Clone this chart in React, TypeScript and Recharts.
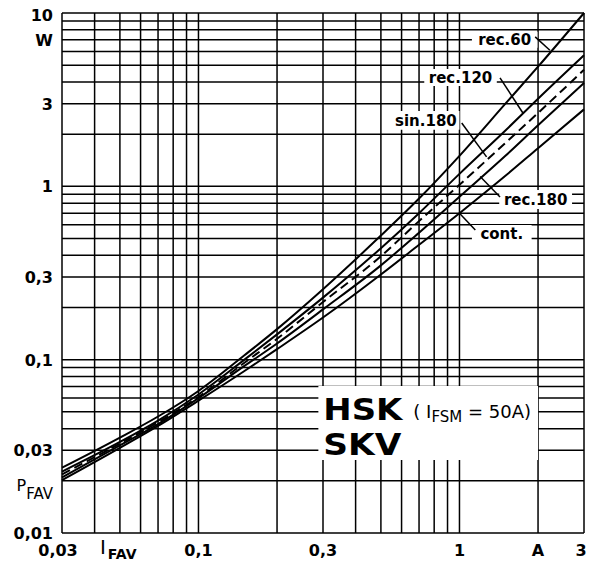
import React from "react";
import {
  CartesianGrid,
  Line,
  LineChart,
  ReferenceArea,
  ReferenceLine,
  XAxis,
  YAxis,
} from "recharts";

// average forward current, A
const currentA = [0.03, 0.05, 0.07, 0.1, 0.15, 0.2, 0.3, 0.5, 0.7, 1, 1.5, 2, 3];

// power loss, W
const powerRec60 = [0.0238, 0.0355, 0.047, 0.066, 0.106, 0.15, 0.255, 0.52, 0.85, 1.5, 3.0, 4.9, 10];
const powerRec120 = [0.0226, 0.0335, 0.0445, 0.063, 0.1, 0.14, 0.228, 0.44, 0.7, 1.18, 2.1, 3.2, 5.7];
const powerSin180 = [0.0218, 0.0328, 0.0435, 0.061, 0.096, 0.132, 0.215, 0.395, 0.63, 1.02, 1.78, 2.65, 4.7];
const powerRec180 = [0.0209, 0.032, 0.0425, 0.06, 0.092, 0.124, 0.195, 0.35, 0.54, 0.87, 1.5, 2.25, 3.95];
const powerCont = [0.0202, 0.031, 0.0415, 0.058, 0.086, 0.115, 0.175, 0.31, 0.46, 0.7, 1.15, 1.66, 2.78];

const gridCurrent = [
  0.03, 0.04, 0.05, 0.06, 0.07, 0.08, 0.09, 0.1, 0.2, 0.3, 0.4, 0.5, 0.6, 0.7,
  0.8, 0.9, 1, 2, 3,
];
const gridPower = [
  0.01, 0.02, 0.03, 0.04, 0.05, 0.06, 0.07, 0.08, 0.09, 0.1, 0.2, 0.3, 0.4,
  0.5, 0.6, 0.7, 0.8, 0.9, 1, 2, 3, 4, 5, 6, 7, 8, 9, 10,
];

const currentLabels: [number, string][] = [
  [0.03, "0,03"],
  [0.05, "I_FAV"],
  [0.1, "0,1"],
  [0.3, "0,3"],
  [1, "1"],
  [2, "A"],
  [3, "3"],
];
const powerLabels: [number, string][] = [
  [10, "10"],
  [7, "W"],
  [3, "3"],
  [1, "1"],
  [0.3, "0,3"],
  [0.1, "0,1"],
  [0.03, "0,03"],
  [0.02, "P_FAV"],
  [0.01, "0,01"],
];

// curve annotations
const noteNames = ["rec.60", "rec.120", "sin.180", "rec.180", "cont."];
const noteCurrent = [[1.116, 1.99], [0.733, 1.39], [0.553, 1.0], [1.42, 2.7], [1.116, 1.89]];
const notePower = [[6.3, 7.8], [3.79, 4.76], [2.12, 2.72], [0.741, 0.953], [0.472, 0.599]];
const leaderFrom = [[1.95, 7.28], [1.43, 4.22], [1.02, 2.32], [1.43, 0.869], [1.15, 0.56]];
const leaderTo = [[2.22, 6.1], [1.75, 2.65], [1.27, 1.48], [1.2, 1.14], [1.0, 0.7]];

const typeBoxCurrent = [0.288, 2.0];
const typeBoxPower = [0.0264, 0.0705];

const rows = currentA.map((x, i) => ({
  x,
  rec60: powerRec60[i],
  rec120: powerRec120[i],
  sin180: powerSin180[i],
  rec180: powerRec180[i],
  cont: powerCont[i],
}));

const FONT = "DejaVu Sans";

const findLabel = (list: [number, string][], v: number) =>
  list.find(([k]) => Math.abs(k - v) < 1e-9)?.[1];

function CurrentTick(props: any) {
  const { x, y, payload } = props;
  const label = findLabel(currentLabels, payload.value);
  if (!label) return null;
  if (label === "I_FAV") {
    return (
      <text x={x - 20} y={y + 21} fontFamily={FONT} fill="#000">
        <tspan fontSize={20}>I</tspan>
        <tspan fontSize={14} fontWeight="bold" dx={2} dy={5}>
          FAV
        </tspan>
      </text>
    );
  }
  const shift = payload.value === 0.03 ? -4 : payload.value === 3 ? -3 : 0;
  return (
    <text
      x={x + shift}
      y={y + 23}
      textAnchor="middle"
      fontFamily={FONT}
      fontWeight="bold"
      fontSize={16}
      fill="#000"
    >
      {label}
    </text>
  );
}

function PowerTick(props: any) {
  const { x, y, payload } = props;
  const label = findLabel(powerLabels, payload.value);
  if (!label) return null;
  if (label === "P_FAV") {
    return (
      <text x={x} y={y + 10} textAnchor="end" fontFamily={FONT} fill="#000">
        <tspan fontSize={16}>P</tspan>
        <tspan fontSize={15} dy={8}>
          FAV
        </tspan>
      </text>
    );
  }
  const shift = payload.value === 10 ? 2 : 0;
  return (
    <text
      x={x}
      y={y + 6 + shift}
      textAnchor="end"
      fontFamily={FONT}
      fontWeight="bold"
      fontSize={16}
      fill="#000"
    >
      {label}
    </text>
  );
}

function TypeLabel(props: any) {
  const vb = props.viewBox;
  if (!vb) return null;
  return (
    <g fill="#000" fontFamily={FONT}>
      <text
        x={vb.x + 5}
        y={vb.y + 34}
        fontSize={30}
        fontWeight="bold"
        textLength={79}
        lengthAdjust="spacingAndGlyphs"
      >
        HSK
      </text>
      <text x={vb.x + 95} y={vb.y + 32} fontSize={18}>
        ( I
        <tspan fontSize={15} dy={4}>
          FSM
        </tspan>
        <tspan dy={-4}> = 50A)</tspan>
      </text>
      <text
        x={vb.x + 5}
        y={vb.y + 69}
        fontSize={30}
        fontWeight="bold"
        textLength={78}
        lengthAdjust="spacingAndGlyphs"
      >
        SKV
      </text>
    </g>
  );
}

export default function App() {
  return (
    <div style={{ position: "absolute", left: 0, top: 0, background: "#fff" }}>
      <LineChart
        width={590}
        height={561}
        data={rows}
        margin={{ top: 13, right: 6, left: 0, bottom: 0 }}
      >
        <CartesianGrid stroke="#000" strokeWidth={1.5} />
        <XAxis
          dataKey="x"
          type="number"
          scale="log"
          domain={[0.03, 3]}
          ticks={gridCurrent}
          interval={0}
          height={28}
          tickSize={0}
          tickMargin={0}
          axisLine={false}
          tickLine={false}
          tick={<CurrentTick />}
        />
        <YAxis
          type="number"
          scale="log"
          domain={[0.01, 10]}
          ticks={gridPower}
          interval={0}
          width={62}
          tickSize={0}
          tickMargin={9}
          axisLine={false}
          tickLine={false}
          tick={<PowerTick />}
        />
        {noteNames.map((name, i) => (
          <ReferenceArea
            key={name}
            x1={noteCurrent[i][0]}
            x2={noteCurrent[i][1]}
            y1={notePower[i][0]}
            y2={notePower[i][1]}
            fill="#fff"
            fillOpacity={1}
            stroke="none"
            label={{
              value: name,
              position: "center",
              fill: "#000",
              fontSize: 15,
              fontWeight: "bold",
              fontFamily: FONT,
            }}
          />
        ))}
        <ReferenceArea
          x1={typeBoxCurrent[0]}
          x2={typeBoxCurrent[1]}
          y1={typeBoxPower[0]}
          y2={typeBoxPower[1]}
          fill="#fff"
          fillOpacity={1}
          stroke="none"
          label={{ content: (p: any) => <TypeLabel {...p} /> }}
        />
        {noteNames.map((name, i) => (
          <ReferenceLine
            key={"lead-" + name}
            segment={[
              { x: leaderFrom[i][0], y: leaderFrom[i][1] },
              { x: leaderTo[i][0], y: leaderTo[i][1] },
            ]}
            stroke="#000"
            strokeWidth={1.5}
          />
        ))}
        <Line type="monotone" dataKey="cont" stroke="#000" strokeWidth={2} dot={false} isAnimationActive={false} />
        <Line type="monotone" dataKey="rec180" stroke="#000" strokeWidth={2} dot={false} isAnimationActive={false} />
        <Line
          type="monotone"
          dataKey="sin180"
          stroke="#000"
          strokeWidth={2}
          strokeDasharray="9 5"
          dot={false}
          isAnimationActive={false}
        />
        <Line type="monotone" dataKey="rec120" stroke="#000" strokeWidth={2} dot={false} isAnimationActive={false} />
        <Line type="monotone" dataKey="rec60" stroke="#000" strokeWidth={2} dot={false} isAnimationActive={false} />
      </LineChart>
    </div>
  );
}
